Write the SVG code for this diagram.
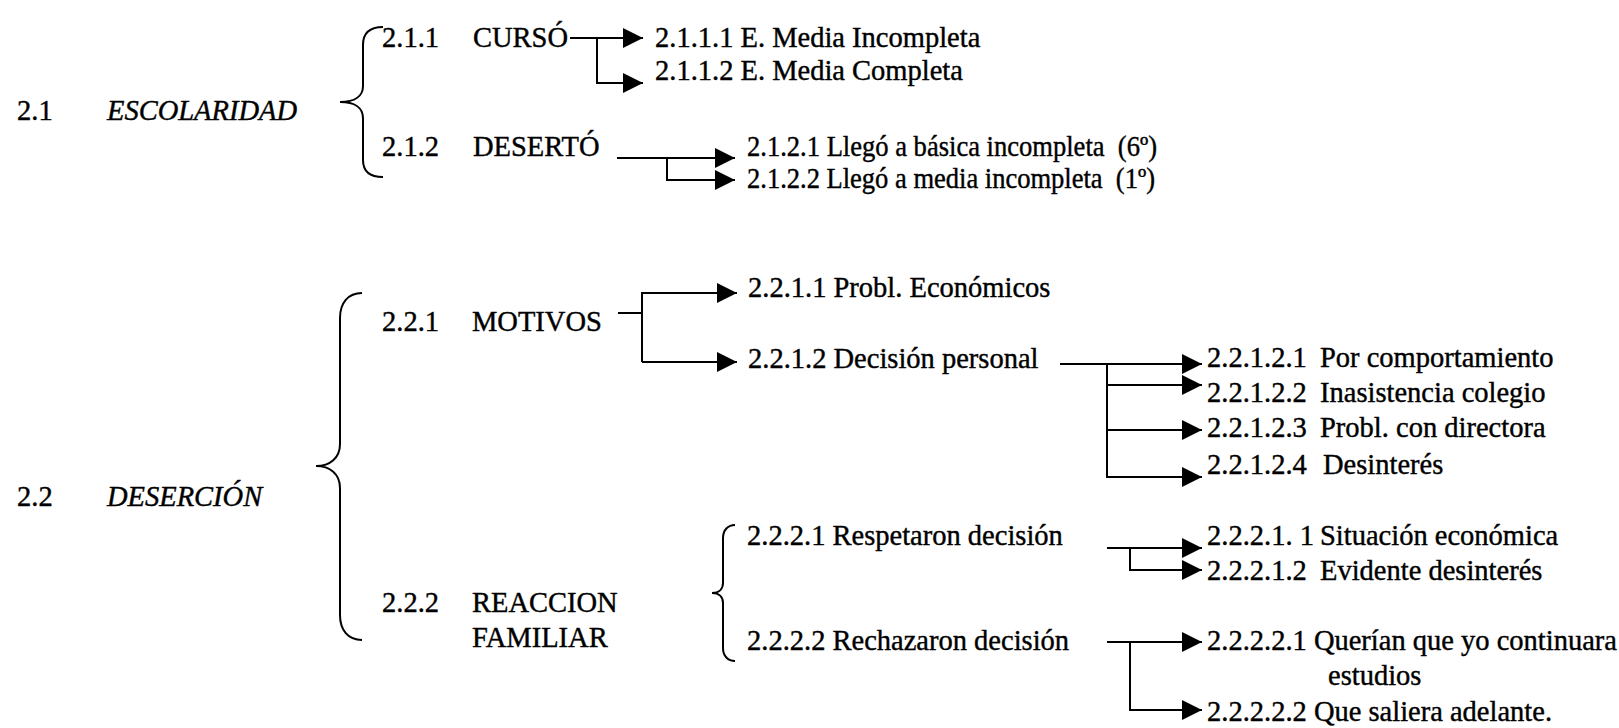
<svg xmlns="http://www.w3.org/2000/svg" width="1619" height="728" viewBox="0 0 1619 728">
<style>
text{font-family:'Liberation Serif','Times New Roman',serif;font-size:28.5px;fill:#000;stroke:#000;stroke-width:0.4}
.it{font-style:italic}
.ln{fill:none;stroke:#000;stroke-width:2}
.br{fill:none;stroke:#000;stroke-width:2}
</style>
<defs>
<marker id="ah" markerUnits="userSpaceOnUse" markerWidth="20" markerHeight="20" refX="20" refY="10" orient="auto" viewBox="0 0 20 20">
<path d="M0,0 L20,10 L0,20 z" fill="#000"/>
</marker>
</defs>
<rect width="1619" height="728" fill="#fff"/>
<g id="n21"><text x="17" y="120">2.1</text><text class="it" x="107" y="120">ESCOLARIDAD</text></g>
<g id="brace21"><path class="br" d="M383,27 C370,27 363,33 363,45 L363,86 C363,96 355,102 340,102 C355,102 363,108 363,118 L363,160 C363,171 370,177 383,177"/></g>
<g id="n211"><text x="382" y="47">2.1.1</text><text x="473" y="47">CURSÓ</text></g>
<g id="n2111"><text x="655" y="47">2.1.1.1 E. Media Incompleta</text></g>
<g id="n2112"><text x="655" y="80">2.1.1.2 E. Media Completa</text></g>
<g id="n212"><text x="382" y="156">2.1.2</text><text x="473" y="156">DESERTÓ</text></g>
<g id="n2121"><text x="747" y="156" xml:space="preserve" textLength="410" lengthAdjust="spacingAndGlyphs">2.1.2.1 Llegó a básica incompleta  (6º)</text></g>
<g id="n2122"><text x="747" y="188" xml:space="preserve" textLength="408" lengthAdjust="spacingAndGlyphs">2.1.2.2 Llegó a media incompleta  (1º)</text></g>

<g id="n22"><text x="17" y="506">2.2</text><text class="it" x="107" y="506">DESERCIÓN</text></g>
<g id="brace22"><path class="br" d="M362,293 C348,293 340,303 340,318 L340,444 C340,458 330,466 316,466 C330,466 340,474 340,488 L340,615 C340,630 348,640 362,640"/></g>
<g id="n221"><text x="382" y="331">2.2.1</text><text x="472" y="331">MOTIVOS</text></g>
<g id="n2211"><text x="748" y="297">2.2.1.1 Probl. Económicos</text></g>
<g id="n2212"><text x="748" y="368">2.2.1.2 Decisión personal</text></g>
<g id="n22121"><text x="1207" y="367">2.2.1.2.1</text><text x="1320" y="367">Por comportamiento</text></g>
<g id="n22122"><text x="1207" y="402">2.2.1.2.2</text><text x="1320" y="402">Inasistencia colegio</text></g>
<g id="n22123"><text x="1207" y="437">2.2.1.2.3</text><text x="1320" y="437">Probl. con directora</text></g>
<g id="n22124"><text x="1207" y="474">2.2.1.2.4</text><text x="1323" y="474">Desinterés</text></g>
<g id="n222"><text x="382" y="612">2.2.2</text><text x="472" y="612">REACCION</text><text x="472" y="647">FAMILIAR</text></g>
<g id="brace222"><path class="br" d="M735,525 C728,525 723,530 723,538 L723,583 C723,589 719,593 712,593 C719,593 723,597 723,603 L723,648 C723,656 728,661 735,661"/></g>
<g id="n2221"><text x="747" y="545">2.2.2.1 Respetaron decisión</text></g>
<g id="n2222"><text x="747" y="650">2.2.2.2 Rechazaron decisión</text></g>
<g id="n22211"><text x="1207" y="545">2.2.2.1. 1</text><text x="1320" y="545">Situación económica</text></g>
<g id="n22212"><text x="1207" y="580">2.2.2.1.2</text><text x="1320" y="580">Evidente desinterés</text></g>
<g id="n22221"><text x="1207" y="650">2.2.2.2.1 Querían que yo continuara</text><text x="1328" y="685">estudios</text></g>
<g id="n22222"><text x="1207" y="721">2.2.2.2.2 Que saliera adelante.</text></g>

<g id="connectors">
<path class="ln" d="M570,38 H643" marker-end="url(#ah)"/>
<path class="ln" d="M597,38 V83 H643" marker-end="url(#ah)"/>
<path class="ln" d="M617,158 H735" marker-end="url(#ah)"/>
<path class="ln" d="M667,158 V180 H735" marker-end="url(#ah)"/>
<path class="ln" d="M618,313 H642"/>
<path class="ln" d="M642,362 V293 H737" marker-end="url(#ah)"/>
<path class="ln" d="M642,362 H737" marker-end="url(#ah)"/>
<path class="ln" d="M1060,364 H1202" marker-end="url(#ah)"/>
<path class="ln" d="M1107,364 V477 H1202" marker-end="url(#ah)"/>
<path class="ln" d="M1107,385 H1202" marker-end="url(#ah)"/>
<path class="ln" d="M1107,430 H1202" marker-end="url(#ah)"/>
<path class="ln" d="M1107,548 H1202" marker-end="url(#ah)"/>
<path class="ln" d="M1130,548 V570 H1202" marker-end="url(#ah)"/>
<path class="ln" d="M1107,642 H1202" marker-end="url(#ah)"/>
<path class="ln" d="M1130,642 V710 H1202" marker-end="url(#ah)"/>
</g>
</svg>
